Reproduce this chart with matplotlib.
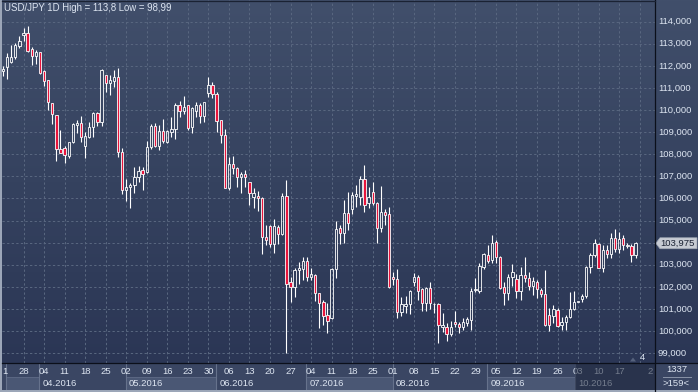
import numpy as np
import matplotlib.pyplot as plt
from matplotlib.colors import LinearSegmentedColormap
from matplotlib.patches import Rectangle, Polygon
from matplotlib.lines import Line2D

# daily candles, 21.03.2016 .. 21.10.2016 (bar 0 = Mon 21 Mar)
opens = [111.75, 111.97, 112.19, 112.39, 112.92, 113.41, 113.47, 112.75, 112.45, 112.61,
         111.77, 111.36, 110.31, 109.78, 108.24, 108.27, 107.92, 108.54, 109.34, 109.40,
         108.39, 108.77, 109.22, 109.85, 109.48, 111.59, 111.24, 111.33, 111.48, 108.12,
         106.40, 106.50, 106.61, 106.99, 107.29, 107.20, 108.32, 109.28, 108.39, 109.05,
         108.54, 109.02, 109.13, 110.22, 109.97, 110.23, 109.25, 109.97, 110.23, 109.75,
         110.76, 111.14, 110.71, 109.55, 108.86, 106.49, 107.55, 107.37, 106.99, 107.09,
         106.73, 106.08, 106.11, 106.01, 104.24, 104.76, 103.93, 104.73, 104.38, 106.13,
         102.21, 101.98, 102.77, 102.81, 103.17, 102.46, 102.54, 101.71, 101.30, 100.73,
         100.61, 102.81, 104.65, 104.46, 105.33, 105.51, 106.11, 106.08, 106.87, 105.78,
         106.31, 105.78, 104.65, 105.40, 105.28, 102.45, 102.34, 100.85, 101.14, 101.23,
         102.21, 102.43, 101.89, 101.26, 101.93, 101.21, 101.21, 100.20, 100.20, 99.85,
         100.40, 100.31, 100.20, 100.35, 100.50, 101.86, 101.83, 102.91, 103.44, 103.22,
         104.02, 103.37, 102.01, 101.74, 102.46, 102.34, 101.81, 102.54, 102.39, 102.06,
         102.24, 101.86, 101.68, 100.73, 100.70, 100.95, 100.26, 100.40, 100.62, 100.99,
         101.33, 101.44, 101.59, 102.91, 103.44, 103.94, 102.87, 103.67, 103.47, 104.20,
         103.70, 104.23, 103.85, 103.85, 103.44]
highs = [112.00, 112.57, 112.95, 113.05, 113.35, 113.71, 113.80, 112.87, 112.72, 112.64,
         111.81, 111.36, 110.34, 109.78, 109.10, 108.38, 108.57, 109.40, 109.55, 109.73,
         108.99, 109.48, 109.93, 109.93, 111.84, 111.59, 111.59, 111.81, 111.92, 108.27,
         106.90, 106.70, 107.44, 107.47, 107.44, 108.60, 109.36, 109.40, 109.33, 109.58,
         109.10, 109.67, 110.31, 110.41, 110.64, 110.23, 110.16, 110.38, 110.34, 110.38,
         111.51, 111.29, 110.83, 109.55, 109.13, 107.89, 107.92, 107.41, 107.21, 107.29,
         106.73, 106.46, 106.34, 106.05, 104.80, 104.80, 105.06, 104.80, 106.23, 106.84,
         102.46, 102.84, 103.14, 103.34, 103.34, 102.84, 102.60, 101.71, 101.41, 101.26,
         102.84, 104.98, 104.80, 105.93, 106.31, 106.31, 106.61, 107.02, 107.52, 106.51,
         106.76, 105.86, 106.57, 105.51, 105.63, 102.69, 102.80, 101.53, 101.59, 101.86,
         102.61, 102.54, 101.93, 102.01, 102.24, 101.26, 101.26, 100.80, 100.35, 100.46,
         100.91, 100.43, 100.58, 100.65, 101.93, 102.39, 103.07, 103.52, 103.90, 104.35,
         104.12, 103.40, 102.24, 102.57, 103.02, 102.58, 102.91, 103.37, 102.69, 102.46,
         102.31, 101.93, 102.76, 101.03, 101.18, 101.03, 100.65, 100.73, 101.78, 101.81,
         101.37, 101.68, 102.94, 103.52, 104.15, 104.00, 103.90, 103.90, 104.45, 104.60,
         104.50, 104.35, 103.97, 103.94, 104.05]
lows = [111.55, 111.39, 112.15, 112.30, 112.80, 113.14, 112.64, 112.04, 112.09, 111.63,
        111.11, 110.00, 109.37, 107.71, 108.04, 107.62, 107.85, 108.50, 108.95, 108.57,
        107.82, 108.75, 108.80, 109.28, 109.28, 110.83, 110.68, 111.06, 107.86, 106.20,
        105.90, 105.55, 106.23, 106.76, 106.38, 107.15, 108.22, 108.35, 108.20, 108.50,
        108.53, 108.80, 108.69, 109.67, 109.82, 109.10, 108.98, 109.70, 109.43, 109.48,
        110.61, 110.53, 109.02, 108.53, 106.49, 106.38, 107.11, 106.54, 106.23, 106.54,
        105.71, 105.56, 105.45, 103.50, 103.90, 103.79, 103.55, 103.93, 104.35, 98.99,
        101.33, 101.53, 102.13, 102.31, 102.27, 102.31, 101.38, 100.16, 100.28, 99.93,
        100.55, 102.42, 103.94, 103.97, 104.58, 105.30, 105.63, 105.71, 105.40, 105.56,
        105.71, 103.97, 104.50, 104.80, 101.94, 102.10, 100.61, 100.70, 100.80, 100.78,
        102.04, 101.41, 100.93, 100.93, 100.98, 100.80, 99.48, 99.97, 99.57, 99.78,
        100.20, 99.93, 100.05, 100.23, 100.05, 101.78, 101.71, 102.79, 103.07, 103.07,
        103.10, 101.89, 101.18, 101.41, 102.04, 101.48, 101.41, 102.24, 101.86, 101.63,
        101.48, 101.56, 100.23, 100.02, 100.35, 100.20, 100.05, 100.05, 100.58, 100.95,
        101.30, 101.33, 101.48, 102.61, 103.34, 102.84, 102.69, 103.29, 103.29, 103.56,
        103.52, 103.67, 103.74, 103.14, 103.29]
closes = [111.85, 112.39, 112.42, 112.95, 113.13, 113.50, 112.69, 112.45, 112.61, 111.69,
          111.33, 110.35, 109.81, 108.23, 108.04, 107.97, 108.54, 109.37, 109.40, 108.77,
          108.83, 109.25, 109.85, 109.45, 111.81, 111.21, 111.36, 111.48, 108.12, 106.40,
          106.50, 106.62, 106.99, 107.24, 107.09, 108.32, 109.28, 108.38, 109.05, 108.62,
          109.07, 109.14, 110.23, 109.97, 110.12, 109.21, 110.08, 110.23, 109.75, 110.38,
          111.14, 110.71, 109.52, 108.86, 106.49, 107.55, 107.37, 106.96, 107.09, 106.96,
          106.23, 106.23, 106.01, 104.24, 104.12, 103.93, 104.76, 104.40, 106.13, 102.12,
          101.98, 102.77, 102.84, 103.17, 102.46, 102.57, 101.71, 101.29, 100.70, 100.47,
          102.81, 104.62, 104.46, 105.33, 104.88, 106.16, 106.19, 106.87, 105.71, 106.05,
          105.78, 104.65, 105.40, 105.25, 102.01, 102.35, 100.85, 101.21, 101.23, 101.81,
          102.43, 101.83, 101.26, 101.93, 101.26, 101.23, 100.28, 100.28, 99.85, 100.20,
          100.31, 100.20, 100.43, 100.53, 101.81, 101.90, 102.95, 103.47, 103.19, 103.97,
          103.37, 101.97, 101.74, 102.46, 102.66, 101.81, 102.54, 102.39, 102.06, 102.27,
          101.89, 101.68, 100.28, 100.28, 100.99, 100.23, 100.40, 100.62, 100.99, 101.33,
          101.35, 101.60, 102.91, 103.44, 103.97, 102.87, 103.67, 103.47, 104.20, 103.71,
          104.15, 103.90, 103.90, 103.44, 103.975]

# Monday labels every 5 bars
tick_bars = list(range(0, 156, 5))
tick_labels = ['21', '28', '04', '11', '18', '25', '02', '09', '16', '23', '30', '06', '13',
               '20', '27', '04', '11', '18', '25', '01', '08', '15', '22', '29', '05', '12',
               '19', '26', '03', '10', '17', '24']
month_bars = [9, 30, 52, 74, 95, 118, 140]
month_labels = ['04.2016', '05.2016', '06.2016', '07.2016', '08.2016', '09.2016', '10.2016']
price_levels = list(range(99, 115))
title = 'USD/JPY 1D High = 113,8 Low = 98,99'
last_price = 103.975

W, H = 698, 392
FONT = 'Liberation Sans'
TXT = '#dde5f1'
GRID = '#58667f'
RED = '#e8143c'
PANEL = '#3a4663'

# pixel geometry: bar k at x = 2.96 + 4.108*k, price p at y = 21.7 + (114 - p)*22.1
XMIN, XMAX = (2 - 2.96) / 4.108, (655 - 2.96) / 4.108
YMAX, YMIN = 114 + 21.7 / 22.1, 114 - (363 - 21.7) / 22.1


def box(x0, y0, x1, y1):
    return [x0 / W, 1 - y1 / H, (x1 - x0) / W, (y1 - y0) / H]


def bare(a):
    a.set_xticks([])
    a.set_yticks([])
    for s in a.spines.values():
        s.set_visible(False)


fig = plt.figure(figsize=(W / 100, H / 100), dpi=100, facecolor='#9ca6b8')
ax = fig.add_axes(box(2, 0, 655, 363))
axb = fig.add_axes(box(2, 363, 655, 390))
axr = fig.add_axes(box(655, 0, 698, 363))
axc = fig.add_axes(box(655, 363, 698, 390))
for a in (ax, axb, axr, axc):
    bare(a)

grad = LinearSegmentedColormap.from_list('bg', ['#2b3655', '#35425f', '#414f6b'])
for a in (ax, axr):
    a.imshow(np.linspace(0, 1, 256).reshape(-1, 1), cmap=grad, origin='lower',
             extent=[0, 1, 0, 1], transform=a.transAxes, aspect='auto', zorder=0)

# grid
for k in tick_bars[1:]:
    ax.axvline(k, color=GRID, lw=0.75, dashes=(2.2, 2.2), zorder=1)
for p in price_levels:
    ax.axhline(p, color=GRID, lw=0.75, dashes=(2.2, 2.2), zorder=1)

# candles
x = np.arange(len(opens))
o, h, l, c = map(np.array, (opens, highs, lows, closes))
top = np.maximum(o, c)
bot = np.minimum(o, c)
ax.vlines(x, top, h, color='white', lw=0.8, zorder=2)
ax.vlines(x, l, bot, color='white', lw=0.8, zorder=2)
face = [RED if cc < oo else 'none' for oo, cc in zip(o, c)]
ax.bar(x, top - bot, bottom=bot, width=0.56, color=face, edgecolor='white',
       linewidth=0.6, zorder=3)

ax.set_xlim(XMIN, XMAX)
ax.set_ylim(YMIN, YMAX)

# bottom time axis
axb.set_facecolor(PANEL)
axb.set_xlim(XMIN, XMAX)
axb.set_ylim(27, 0)
edges = [0.74] + [m - 0.15 for m in month_bars[:-1]] + [139.3, XMAX]
for i in range(len(edges) - 1):
    if i % 2 == 0:
        axb.add_patch(Rectangle((edges[i], 14), edges[i + 1] - edges[i], 13.5,
                                facecolor='#4a5774', edgecolor='#5b6783', lw=0.7, zorder=1))
for e in edges[:-1]:
    axb.vlines(e, 0, 27, color='#66728c', lw=0.8, zorder=2)
for k, lab in zip(tick_bars, tick_labels):
    if k == 0:
        # first label is half hidden behind the left border
        axb.text(XMIN, 8.7, lab[1:], ha='left', va='center', color=TXT, fontsize=6.8,
                 family=FONT, zorder=3)
    elif k == 155:
        axb.text(k + 1.9, 8.7, lab[0], ha='left', va='center', color=TXT, fontsize=6.8,
                 family=FONT, zorder=3)
    else:
        axb.text(k, 8.7, lab, ha='center', va='center', color=TXT, fontsize=6.8,
                 family=FONT, zorder=3)
for e, lab in zip(edges[1:], month_labels):
    axb.text(e + 0.8, 20.2, lab, ha='left', va='center', color=TXT, fontsize=6.8,
             family=FONT, zorder=3)
axb.add_patch(Rectangle((139.3, 0), XMAX - 139.3, 27, facecolor='#1c253a', alpha=0.55,
                        lw=0, zorder=4))

# right price axis
axr.set_xlim(0, 43)
axr.set_ylim(YMIN, YMAX)
hh = 5.5 / 22.1
for p in price_levels:
    if abs(p - last_price) < 2 * hh:
        continue  # hidden behind the current price tag
    axr.text(3, p, f'{p:.3f}'.replace('.', ','), ha='left', va='center', color=TXT,
             fontsize=6.8, family=FONT)
axr.add_patch(Polygon([(0.8, last_price), (5, last_price + hh), (42, last_price + hh),
                       (42, last_price - hh), (5, last_price - hh)],
                      closed=True, facecolor='#c7cbd3', edgecolor='#9ea5b3', lw=0.5, zorder=5))
axr.text(5.5, last_price, f'{last_price:.3f}'.replace('.', ','), ha='left', va='center',
         color='#1a2132', fontsize=6.8, family=FONT, zorder=6)

# corner box
axc.set_facecolor(PANEL)
axc.set_xlim(0, 43)
axc.set_ylim(27, 0)
axc.text(21.5, 7, '1337', ha='center', va='center', color=TXT, fontsize=6.8, family=FONT)
axc.text(21.5, 20, '>159<', ha='center', va='center', color=TXT, fontsize=6.8, family=FONT)
axc.plot([8, 36], [13.8, 13.8], color='#8a94a8', lw=0.7)

# separators, title, misc
fig.add_artist(Line2D([655 / W, 655 / W], [0, 1], color='#0b0f1a', lw=0.9))
fig.add_artist(Line2D([2 / W, 1], [1 - 363 / H, 1 - 363 / H], color='#0b0f1a', lw=0.9))
fig.add_artist(Line2D([2 / W, 655 / W], [1 - 0.5 / H, 1 - 0.5 / H], color='#1a2233', lw=0.9))
fig.text(4 / W, 1 - 8 / H, title, ha='left', va='center', color=TXT, fontsize=6.9, family=FONT)
fig.text(642 / W, 1 - 358 / H, '4', ha='center', va='center', color=TXT, fontsize=6.8,
         family=FONT)
fig.add_artist(Polygon([(630 / W, 1 - 361.5 / H), (636 / W, 1 - 361.5 / H),
                        (633 / W, 1 - 357.5 / H)], closed=True, facecolor='#56627d',
                       edgecolor='none', transform=fig.transFigure))

fig.savefig('out.png', dpi=100, facecolor=fig.get_facecolor())
